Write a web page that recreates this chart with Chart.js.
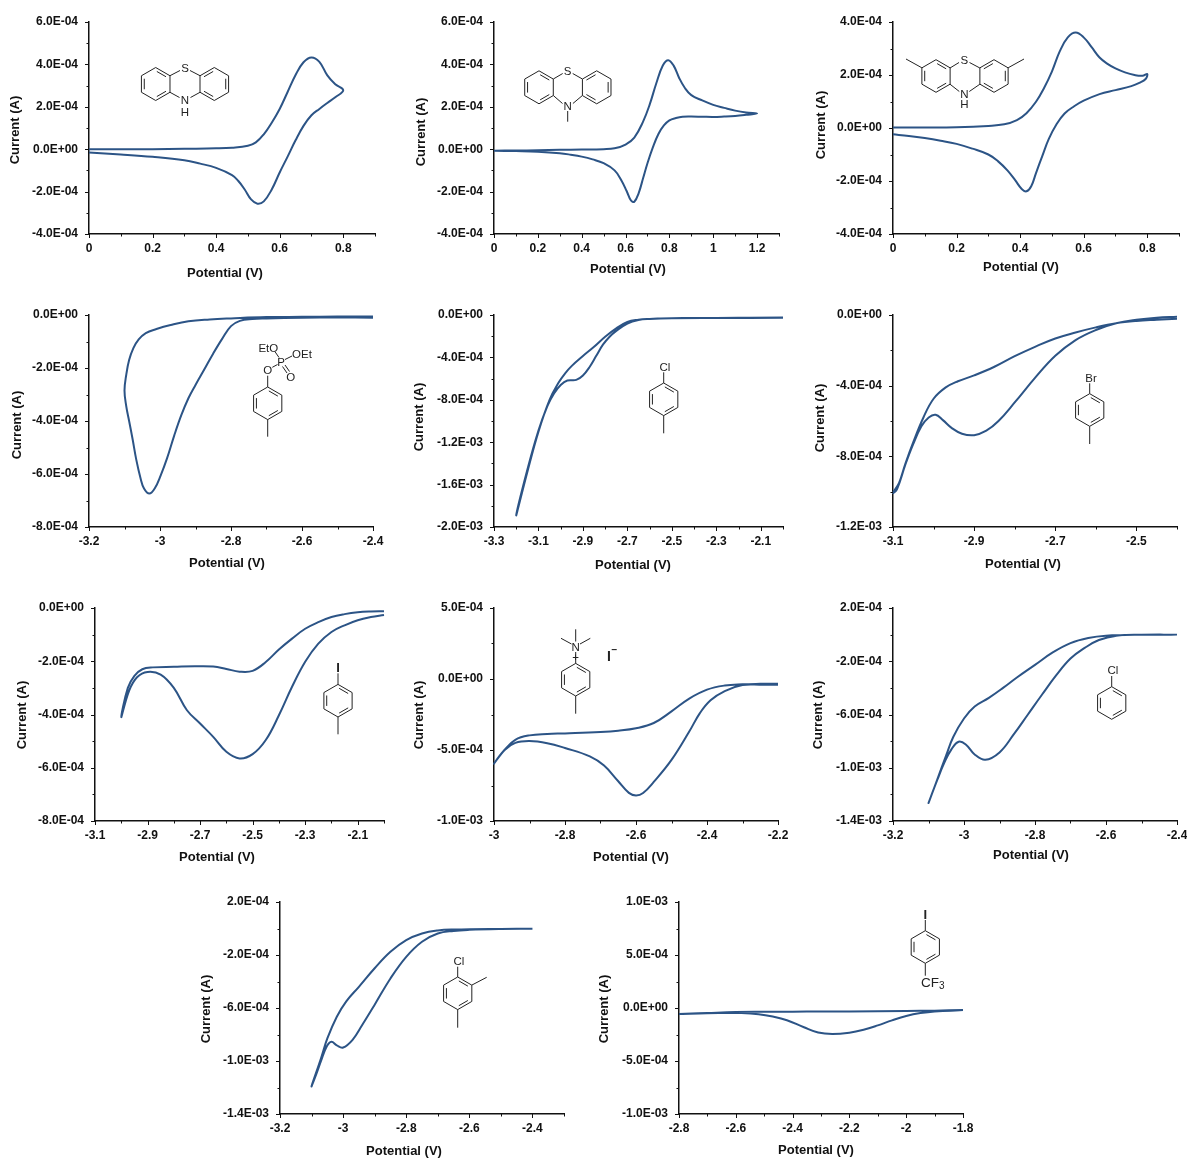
<!DOCTYPE html>
<html>
<head>
<meta charset="utf-8">
<title>Cyclic voltammograms</title>
<script src="https://cdn.jsdelivr.net/npm/chart.js@4"></script>
<style>
  html, body { margin: 0; background: #fff; }
  #page { position: relative; width: 1187px; height: 1158px; overflow: hidden; }
  #page canvas { position: absolute; }
  #molecules { position: absolute; left: 0; top: 0; pointer-events: none; }
  #molecules line { stroke: #222; stroke-width: 1; }
  #molecules text { font: 11.5px "Liberation Sans", Arial, sans-serif; fill: #222; text-anchor: middle; dominant-baseline: central; }
</style>
</head>
<body>
<div id="page"><svg id="molecules" width="1187" height="1158"></svg></div>
<script>
// Data, potential in V and current in units of 1E-04 A

const phenothiazineV = [0, 0.1, 0.2, 0.3, 0.4, 0.45, 0.5, 0.525, 0.55, 0.575, 0.6, 0.625, 0.65, 0.675, 0.7, 0.725, 0.75, 0.775, 0.8,
  0.775, 0.75, 0.725, 0.7, 0.675, 0.65, 0.625, 0.6, 0.575, 0.55, 0.53, 0.51, 0.49, 0.47, 0.45, 0.4, 0.35, 0.3, 0.2, 0.1, 0];
const phenothiazineI = [0, 0, 0, 0.02, 0.04, 0.07, 0.16, 0.32, 0.7, 1.25, 1.9, 2.7, 3.5, 4.1, 4.33, 4.12, 3.48, 3.06, 2.78,
  2.45, 2.18, 1.9, 1.6, 1.1, 0.42, -0.35, -1.1, -1.9, -2.46, -2.57, -2.37, -1.9, -1.5, -1.22, -0.88, -0.68, -0.52, -0.36, -0.25, -0.16];

const methylPhenothiazineV = [0, 0.1, 0.2, 0.3, 0.4, 0.5, 0.55, 0.6, 0.64, 0.68, 0.71, 0.74, 0.77, 0.795, 0.82, 0.845, 0.87, 0.9, 0.95, 1, 1.05, 1.1, 1.15, 1.2,
  1.15, 1.1, 1.05, 1, 0.95, 0.9, 0.86, 0.83, 0.8, 0.775, 0.75, 0.725, 0.7, 0.68, 0.66, 0.64, 0.625, 0.605, 0.58, 0.55, 0.5, 0.45, 0.4, 0.35, 0.3, 0.2, 0.1, 0];
const methylPhenothiazineI = [-0.07, -0.06, -0.05, -0.03, -0.02, 0, 0.04, 0.22, 0.55, 1.3, 2.1, 3.1, 3.95, 4.2, 3.93, 3.35, 2.9, 2.55, 2.3, 2.09, 1.95, 1.82, 1.73, 1.68,
  1.62, 1.57, 1.54, 1.52, 1.53, 1.54, 1.53, 1.47, 1.36, 1.12, 0.72, 0.1, -0.66, -1.37, -2.07, -2.48, -2.42, -1.97, -1.45, -1.0, -0.66, -0.48, -0.35, -0.26, -0.19, -0.12, -0.09, -0.07];

const dimethylPhenothiazineV = [0, 0.1, 0.2, 0.3, 0.35, 0.39, 0.42, 0.45, 0.475, 0.5, 0.525, 0.55, 0.575, 0.6, 0.625, 0.65, 0.675, 0.7, 0.73, 0.76, 0.785, 0.8,
  0.795, 0.775, 0.75, 0.7, 0.65, 0.6, 0.57, 0.54, 0.515, 0.49, 0.47, 0.45, 0.435, 0.42, 0.405, 0.385, 0.36, 0.33, 0.3, 0.25, 0.2, 0.15, 0.1, 0.05, 0];
const dimethylPhenothiazineI = [0.02, 0.02, 0.03, 0.08, 0.14, 0.3, 0.56, 0.99, 1.5, 2.13, 2.9, 3.42, 3.6, 3.42, 3.05, 2.66, 2.42, 2.25, 2.1, 2.0, 1.97, 2.04,
  1.85, 1.7, 1.58, 1.43, 1.28, 1.03, 0.82, 0.55, 0.15, -0.42, -1.05, -1.7, -2.2, -2.39, -2.3, -1.98, -1.6, -1.25, -1.0, -0.78, -0.6, -0.48, -0.38, -0.3, -0.24];

const tolylPhosphateV = [-2.4, -2.5, -2.6, -2.7, -2.8, -2.86, -2.92, -2.97, -3.01, -3.04, -3.06, -3.075, -3.087, -3.095, -3.1,
  -3.095, -3.087, -3.077, -3.067, -3.055, -3.045, -3.03, -3.015, -2.998, -2.98, -2.96, -2.94, -2.92, -2.9, -2.875, -2.85, -2.825, -2.8, -2.775, -2.74, -2.7, -2.6, -2.5, -2.4];
const tolylPhosphateI = [-0.06, -0.06, -0.07, -0.08, -0.13, -0.17, -0.24, -0.38, -0.53, -0.68, -0.92, -1.25, -1.7, -2.25, -2.85,
  -3.45, -4.0, -4.7, -5.45, -6.15, -6.55, -6.74, -6.55, -6.05, -5.4, -4.55, -3.78, -3.14, -2.64, -2.05, -1.45, -0.9, -0.42, -0.22, -0.15, -0.13, -0.1, -0.09, -0.1];

const chlorotolueneV = [-2, -2.2, -2.4, -2.5, -2.55, -2.6, -2.65, -2.7, -2.75, -2.8, -2.85, -2.9, -2.95, -2.98, -3.01, -3.05, -3.1, -3.15, -3.2,
  -3.15, -3.1, -3.06, -3.03, -3, -2.97, -2.93, -2.9, -2.87, -2.84, -2.81, -2.78, -2.75, -2.7, -2.65, -2.6, -2.5, -2.3, -2];
const chlorotolueneI = [-0.25, -0.27, -0.28, -0.3, -0.33, -0.37, -0.45, -0.65, -1.26, -2.05, -3.0, -3.87, -4.8, -5.5, -6.4, -8.0, -11.0, -14.8, -18.9,
  -14.6, -10.9, -8.6, -7.4, -6.6, -6.18, -6.12, -5.7, -4.9, -3.85, -2.8, -2.05, -1.5, -0.8, -0.47, -0.37, -0.3, -0.28, -0.27];

const bromotolueneV = [-2.4, -2.45, -2.5, -2.55, -2.6, -2.65, -2.7, -2.75, -2.8, -2.85, -2.9, -2.94, -2.97, -3, -3.025, -3.05, -3.07, -3.085, -3.1,
  -3.09, -3.07, -3.05, -3.03, -3.012, -2.995, -2.977, -2.955, -2.93, -2.9, -2.87, -2.84, -2.8, -2.75, -2.7, -2.65, -2.6, -2.55, -2.5, -2.45, -2.4];
const bromotolueneI = [-0.21, -0.27, -0.34, -0.47, -0.7, -0.99, -1.33, -1.8, -2.33, -2.93, -3.42, -3.75, -4.1, -4.74, -5.8, -7.2, -8.45, -9.5, -10.07,
  -9.85, -8.5, -7.3, -6.3, -5.8, -5.65, -5.95, -6.4, -6.72, -6.8, -6.55, -6.0, -4.95, -3.56, -2.31, -1.42, -0.85, -0.47, -0.27, -0.15, -0.1];

const iodotolueneV = [-2, -2.05, -2.1, -2.15, -2.2, -2.25, -2.3, -2.35, -2.4, -2.45, -2.5, -2.55, -2.6, -2.65, -2.7, -2.75, -2.8, -2.85, -2.9, -2.94, -2.97, -3,
  -2.975, -2.95, -2.92, -2.88, -2.8, -2.72, -2.65, -2.6, -2.55, -2.5, -2.45, -2.4, -2.35, -2.3, -2.25, -2.2, -2.15, -2.1, -2.05, -2];
const iodotolueneI = [-0.26, -0.34, -0.46, -0.65, -0.9, -1.34, -2.02, -2.96, -4.03, -4.96, -5.49, -5.65, -5.4, -4.84, -4.34, -3.84, -3.0, -2.5, -2.4, -2.6, -3.1, -4.1,
  -3.0, -2.55, -2.3, -2.23, -2.21, -2.19, -2.2, -2.29, -2.39, -2.36, -2.03, -1.56, -1.15, -0.78, -0.53, -0.34, -0.23, -0.16, -0.13, -0.12];

const ammoniumSaltV = [-2.2, -2.25, -2.3, -2.35, -2.39, -2.42, -2.45, -2.5, -2.55, -2.58, -2.6, -2.62, -2.65, -2.69, -2.73, -2.8, -2.85, -2.9, -2.94, -2.97, -3,
  -2.97, -2.94, -2.9, -2.85, -2.8, -2.7, -2.65, -2.6, -2.55, -2.5, -2.45, -2.4, -2.35, -2.3, -2.25, -2.2];
const ammoniumSaltI = [-0.4, -0.4, -0.43, -0.85, -1.5, -2.4, -3.7, -5.7, -7.25, -8.03, -8.2, -8.02, -7.2, -6.1, -5.45, -4.86, -4.52, -4.37, -4.5, -5.0, -5.96,
  -4.98, -4.28, -3.97, -3.87, -3.83, -3.73, -3.64, -3.47, -3.1, -2.28, -1.38, -0.75, -0.46, -0.37, -0.34, -0.33];

const chlorobenzeneV = [-2.4, -2.5, -2.57, -2.62, -2.66, -2.7, -2.74, -2.78, -2.82, -2.86, -2.9, -2.94, -2.97, -2.995, -3.015, -3.035, -3.055, -3.075, -3.1,
  -3.07, -3.05, -3.03, -3, -2.97, -2.93, -2.89, -2.85, -2.8, -2.75, -2.7, -2.65, -2.6, -2.5, -2.4];
const chlorobenzeneI = [0, -0.01, -0.08, -0.4, -1.0, -1.8, -3.05, -4.5, -6.0, -7.5, -8.85, -9.4, -9.0, -8.25, -8.05, -8.6, -9.6, -10.9, -12.65,
  -10.5, -9.05, -7.67, -6.3, -5.4, -4.75, -4.0, -3.2, -2.27, -1.34, -0.64, -0.26, -0.09, -0.01, 0];

const chloroxyleneV = [-2.4, -2.5, -2.6, -2.65, -2.7, -2.75, -2.8, -2.85, -2.9, -2.94, -2.97, -3, -3.02, -3.037, -3.052, -3.07, -3.085, -3.1,
  -3.07, -3.05, -3.02, -2.99, -2.95, -2.9, -2.85, -2.8, -2.75, -2.7, -2.65, -2.5, -2.4];
const chloroxyleneI = [-0.02, -0.04, -0.1, -0.18, -0.38, -1.0, -2.14, -3.77, -5.75, -7.3, -8.4, -8.98, -8.82, -8.55, -8.9, -10.0, -11.0, -11.9,
  -9.8, -8.3, -6.66, -5.5, -4.4, -3.0, -1.76, -0.88, -0.38, -0.15, -0.08, -0.03, -0.02];

const iodoTrifluorotolueneV = [-1.8, -1.9, -1.95, -2, -2.05, -2.1, -2.15, -2.2, -2.26, -2.31, -2.36, -2.42, -2.47, -2.52, -2.58, -2.66, -2.8,
  -2.7, -2.6, -2.5, -2.4, -2.3, -2.2, -2, -1.9, -1.8];
const iodoTrifluorotolueneI = [-0.22, -0.32, -0.48, -0.76, -1.17, -1.64, -2.05, -2.33, -2.46, -2.32, -1.82, -1.15, -0.8, -0.58, -0.48, -0.48, -0.57,
  -0.47, -0.38, -0.36, -0.35, -0.33, -0.32, -0.28, -0.25, -0.19];

// Layout: plot box is [left, top, right, bottom] on the page, titles are [x, y] centres

const panels = [
  { volts: phenothiazineV, amps: phenothiazineI, box: [89, 22, 375, 234], xRange: [0, 0.9], yRange: [-4, 6], yStep: 1, xTitle: [225, 273], yTitle: [15, 130] },
  { volts: methylPhenothiazineV, amps: methylPhenothiazineI, box: [494, 22, 779, 234], xRange: [0, 1.3], yRange: [-4, 6], yStep: 1, xTitle: [628, 269], yTitle: [421, 132] },
  { volts: dimethylPhenothiazineV, amps: dimethylPhenothiazineI, box: [893, 22, 1179, 234], xRange: [0, 0.9], yRange: [-4, 4], yStep: 1, xTitle: [1021, 267], yTitle: [821, 125] },
  { volts: tolylPhosphateV, amps: tolylPhosphateI, box: [89, 315, 373, 527], xRange: [-3.2, -2.4], yRange: [-8, 0], yStep: 1, xTitle: [227, 563], yTitle: [17, 425] },
  { volts: chlorotolueneV, amps: chlorotolueneI, box: [494, 315, 783, 527], xRange: [-3.3, -2], yRange: [-20, 0], yStep: 2, xTitle: [633, 565], yTitle: [419, 417] },
  { volts: bromotolueneV, amps: bromotolueneI, box: [893, 315, 1177, 527], xRange: [-3.1, -2.4], yRange: [-12, 0], yStep: 2, xTitle: [1023, 564], yTitle: [820, 418] },
  { volts: iodotolueneV, amps: iodotolueneI, box: [95, 608, 384, 821], xRange: [-3.1, -2], yRange: [-8, 0], yStep: 1, xTitle: [217, 857], yTitle: [22, 715] },
  { volts: ammoniumSaltV, amps: ammoniumSaltI, box: [494, 608, 778, 821], xRange: [-3, -2.2], yRange: [-10, 5], yStep: 2.5, xTitle: [631, 857], yTitle: [419, 715] },
  { volts: chlorobenzeneV, amps: chlorobenzeneI, box: [893, 608, 1177, 821], xRange: [-3.2, -2.4], yRange: [-14, 2], yStep: 2, xTitle: [1031, 855], yTitle: [818, 715] },
  { volts: chloroxyleneV, amps: chloroxyleneI, box: [280, 902, 564, 1114], xRange: [-3.2, -2.3], yRange: [-14, 2], yStep: 2, xTitle: [404, 1151], yTitle: [206, 1009] },
  { volts: iodoTrifluorotolueneV, amps: iodoTrifluorotolueneI, box: [679, 902, 963, 1114], xRange: [-2.8, -1.8], yRange: [-10, 10], yStep: 2.5, xTitle: [816, 1150], yTitle: [604, 1009] },
];

const marginLeft = 85;
const marginTop = 12;
const marginRight = 24;
const marginBottom = 50;
const ink = "#111";
const labelFont = "bold 13px 'Liberation Sans', Arial, sans-serif";

Chart.defaults.font.family = "'Liberation Sans', Arial, sans-serif";
Chart.defaults.font.size = 12;
Chart.defaults.font.weight = "bold";
Chart.defaults.color = ink;

// 6.0E-04 style labels, values are in 1E-04 A
const currentLabel = (value) => {
  if (value === 0) return "0.0E+00";
  return (value * 1e-4).toExponential(1).replace(/e([+-])(\d)$/, "E$10$2");
};

// Major and minor tick marks and the two axis titles
const axisExtras = (panel) => ({
  id: "axisExtras",
  afterDraw(chart) {
    const { ctx, scales, chartArea } = chart;
    ctx.save();
    ctx.strokeStyle = ink;
    ctx.lineWidth = 1;
    ctx.beginPath();
    scales.x.ticks.forEach((tick, i) => {
      const x = Math.round(scales.x.getPixelForValue(tick.value)) + 0.5;
      ctx.moveTo(x, chartArea.bottom);
      ctx.lineTo(x, chartArea.bottom + (i % 2 === 0 ? 4 : 2.5));
    });
    scales.y.ticks.forEach((tick, i) => {
      const y = Math.round(scales.y.getPixelForValue(tick.value)) + 0.5;
      ctx.moveTo(chartArea.left, y);
      ctx.lineTo(chartArea.left - (i % 2 === 0 ? 4 : 2.5), y);
    });
    ctx.stroke();

    const originX = panel.box[0] - marginLeft;
    const originY = panel.box[1] - marginTop;
    ctx.fillStyle = ink;
    ctx.font = labelFont;
    ctx.textAlign = "center";
    ctx.textBaseline = "middle";
    ctx.fillText("Potential (V)", panel.xTitle[0] - originX, panel.xTitle[1] - originY);
    ctx.translate(panel.yTitle[0] - originX, panel.yTitle[1] - originY);
    ctx.rotate(-Math.PI / 2);
    ctx.fillText("Current (A)", 0, 0);
    ctx.restore();
  },
});

const drawPanel = (panel) => {
  const [left, top, right, bottom] = panel.box;
  const canvas = document.createElement("canvas");
  canvas.width = right - left + marginLeft + marginRight;
  canvas.height = bottom - top + marginTop + marginBottom;
  canvas.style.left = `${left - marginLeft}px`;
  canvas.style.top = `${top - marginTop}px`;
  document.querySelector("#page").insertBefore(canvas, document.querySelector("#molecules"));

  const config = {
    type: "scatter",
    data: {
      datasets: [
        {
          data: panel.volts.map((v, i) => ({ x: v, y: panel.amps[i] })),
          showLine: true,
          borderColor: "#2c5486",
          borderWidth: 2,
          pointRadius: 0,
          tension: 0.4,
          clip: false,
        },
      ],
    },
    options: {
      responsive: false,
      animation: false,
      layout: { padding: { top: marginTop, right: marginRight, left: 0, bottom: 0 } },
      plugins: { legend: { display: false }, tooltip: { enabled: false } },
      scales: {
        x: {
          type: "linear",
          min: panel.xRange[0],
          max: panel.xRange[1],
          grid: { display: false, drawTicks: false },
          border: { color: ink, width: 1.5 },
          afterFit: (scale) => { scale.height = marginBottom; scale.paddingLeft = 0; scale.paddingRight = 0; },
          ticks: {
            stepSize: 0.1,
            autoSkip: false,
            maxRotation: 0,
            padding: 7,
            callback: (value, i) => (i % 2 === 0 ? String(+value.toFixed(1)) : ""),
          },
        },
        y: {
          min: panel.yRange[0],
          max: panel.yRange[1],
          grid: { display: false, drawTicks: false },
          border: { color: ink, width: 1.5 },
          afterFit: (scale) => { scale.width = marginLeft; scale.paddingTop = 0; scale.paddingBottom = 0; },
          ticks: {
            stepSize: panel.yStep,
            autoSkip: false,
            padding: 11,
            callback: (value, i) => (i % 2 === 0 ? currentLabel(value) : ""),
          },
        },
      },
    },
    plugins: [axisExtras(panel)],
  };
  new Chart(canvas, config);
};

panels.forEach(drawPanel);

// Structure drawings next to the curves

const svg = document.querySelector("#molecules");
const svgNS = "http://www.w3.org/2000/svg";

const bond = (x1, y1, x2, y2) => {
  const el = document.createElementNS(svgNS, "line");
  Object.entries({ x1, y1, x2, y2 }).forEach(([k, v]) => el.setAttribute(k, v));
  svg.appendChild(el);
};

const atom = (x, y, text, opts = {}) => {
  const el = document.createElementNS(svgNS, "text");
  el.setAttribute("x", x);
  el.setAttribute("y", y);
  el.textContent = text;
  if (opts.bold) el.style.fontWeight = "bold";
  if (opts.size) el.style.fontSize = `${opts.size}px`;
  svg.appendChild(el);
  return el;
};

// vertices run clockwise from the top, inner lines go on the listed sides
const ring = (cx, cy, r, inner) => {
  const corner = (i, k = 1) => {
    const a = (Math.PI / 3) * i;
    return [cx + k * r * Math.sin(a), cy - k * r * Math.cos(a)];
  };
  for (let i = 0; i < 6; i++) {
    bond(...corner(i), ...corner((i + 1) % 6));
  }
  inner.forEach((i) => {
    const [ax, ay] = corner(i, 0.8);
    const [bx, by] = corner((i + 1) % 6, 0.8);
    const t = 0.1;
    bond(ax + (bx - ax) * t, ay + (by - ay) * t, bx - (bx - ax) * t, by - (by - ay) * t);
  });
  return corner;
};

const leftSides = [0, 2, 4];
const rightSides = [1, 3, 5];

// phenothiazine
ring(155.7, 84, 16.5, leftSides);
ring(214.3, 84, 16.5, rightSides);
bond(170, 75.7, 180, 70.5); bond(190, 70.5, 200, 75.7);
bond(170, 92.3, 179.5, 97.5); bond(190.5, 97.5, 200, 92.3);
atom(185, 68, "S"); atom(185, 99.5, "N"); atom(185, 111.7, "H");

// N-methylphenothiazine
ring(539, 87.3, 16.5, leftSides);
ring(596.7, 87.3, 16.5, rightSides);
bond(553.3, 79, 562.7, 73.5); bond(572.7, 73.5, 582.4, 79);
bond(553.3, 95.5, 562.5, 103.5); bond(572.9, 103.5, 582.4, 95.5);
atom(567.7, 71, "S"); atom(567.7, 106, "N");
bond(567.7, 111, 567.7, 121.7);

// 3,7-dimethylphenothiazine
ring(936, 76, 16.3, leftSides);
ring(994, 76, 16.3, rightSides);
bond(950, 68, 959, 62.5); bond(969.5, 62.5, 979.9, 68);
bond(950, 84.2, 959.3, 91.5); bond(969.3, 91.5, 979.9, 84.2);
atom(964.3, 60, "S"); atom(964.3, 94.3, "N"); atom(964.3, 104, "H");
bond(921.9, 67.8, 906, 59); bond(1008.1, 67.8, 1024, 59);

// tolyl diethyl phosphate
ring(267.7, 403.3, 16.3, leftSides);
bond(267.7, 419.6, 267.7, 436.7); bond(267.7, 375.7, 267.7, 387);
atom(267.7, 370.3, "O"); atom(281, 361.7, "P");
atom(268.3, 347.7, "EtO"); atom(302, 354.3, "OEt"); atom(290.7, 376.7, "O");
bond(272.3, 367.3, 277.5, 364.5); bond(275, 351.7, 279, 357.5); bond(285, 359.5, 292, 356);
bond(282.5, 366.5, 287, 373); bond(285, 365, 289.5, 371.5);

// 4-chlorotoluene
ring(663.7, 399.3, 16.3, leftSides);
bond(663.7, 383, 663.7, 372.3); bond(663.7, 415.6, 663.7, 433.3);
atom(665, 366.7, "Cl");

// 4-bromotoluene
ring(1089.7, 410, 16.3, leftSides);
bond(1089.7, 393.7, 1089.7, 383.3); bond(1089.7, 426.3, 1089.7, 444);
atom(1091, 377.7, "Br");

// 4-iodotoluene
ring(338, 700.7, 16.3, leftSides);
bond(338, 684.4, 338, 673.3); bond(338, 717, 338, 734.3);
atom(338, 667.3, "I", { bold: true, size: 13 });

// trimethylanilinium iodide
ring(575.7, 679.7, 16.3, leftSides);
bond(575.7, 629.3, 575.7, 641.5); bond(561, 638.3, 571.5, 644); bond(590.3, 638.3, 580, 644);
bond(575.7, 663.4, 575.7, 652); bond(575.7, 696, 575.7, 713.7);
atom(575.7, 646.7, "N"); atom(575.7, 656.7, "+");
atom(609, 655.7, "I", { bold: true, size: 14 }); atom(614.5, 649, "−", { bold: true, size: 10 });

// chlorobenzene
ring(1111.7, 703, 16.3, leftSides);
bond(1111.7, 686.7, 1111.7, 676);
atom(1113, 670, "Cl");

// 4-chloro-m-xylene
ring(457.7, 993.3, 16.3, leftSides);
bond(457.7, 977, 457.7, 966.7); bond(471.8, 985.1, 486.7, 977.3); bond(457.7, 1009.6, 457.7, 1027.7);
atom(459, 961, "Cl");

// 4-iodobenzotrifluoride
ring(925.3, 947, 16.3, leftSides);
bond(925.3, 930.7, 925.3, 920); bond(925.3, 963.3, 925.3, 975.7);
atom(925.3, 914.3, "I", { bold: true, size: 13 });
const cf3 = atom(932.7, 982.3, "CF", { size: 13.5 });
const sub = document.createElementNS(svgNS, "tspan");
sub.setAttribute("dy", 3);
sub.style.fontSize = "10px";
sub.textContent = "3";
cf3.appendChild(sub);
</script>
</body>
</html>
